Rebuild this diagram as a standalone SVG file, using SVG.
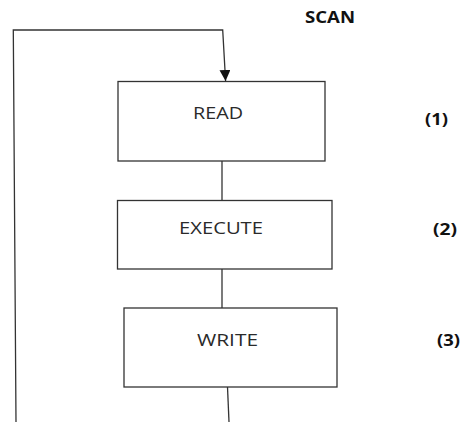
<svg xmlns="http://www.w3.org/2000/svg" width="461" height="422" viewBox="0 0 461 422">
  <style>
    .box { fill: #ffffff; stroke: #333333; stroke-width: 1.3; }
    .wire { fill: none; stroke: #333333; stroke-width: 1.3; }
    .lbl { font-family: "Open Sans", "DejaVu Sans", sans-serif; font-size: 15.5px; fill: #2a2a2a; }
    .bold { font-family: "Open Sans", "DejaVu Sans", sans-serif; font-size: 16px; font-weight: bold; fill: #111111; }
  </style>
  <defs>
    <marker id="arrow" viewBox="0 0 10 10" refX="10" refY="5" markerWidth="11" markerHeight="11" markerUnits="userSpaceOnUse" orient="auto">
      <path d="M0,0 L10,5 L0,10 Z" fill="#111111"/>
    </marker>
  </defs>
  <rect width="461" height="422" fill="#ffffff"/>

  <text class="bold" x="305" y="23" textLength="50" lengthAdjust="spacingAndGlyphs">SCAN</text>

  <g id="connectors">
    <!-- loop back from the bottom into READ -->
    <polyline class="wire" points="16,422 13.3,30 222.7,30 225.6,81" marker-end="url(#arrow)"/>
    <line class="wire" x1="222" y1="161" x2="222" y2="200.5"/>
    <line class="wire" x1="222" y1="269" x2="222" y2="308"/>
    <line class="wire" x1="227.5" y1="387" x2="229" y2="422"/>
  </g>

  <g id="read">
    <rect class="box" x="118" y="81.5" width="207" height="79.5"/>
    <text class="lbl" x="193" y="119" textLength="50" lengthAdjust="spacingAndGlyphs">READ</text>
  </g>
  <g id="execute">
    <rect class="box" x="117.5" y="200.5" width="214.5" height="68.5"/>
    <text class="lbl" x="179" y="234" textLength="84" lengthAdjust="spacingAndGlyphs">EXECUTE</text>
  </g>
  <g id="write">
    <rect class="box" x="124" y="308" width="213" height="79"/>
    <text class="lbl" x="197" y="346" textLength="61" lengthAdjust="spacingAndGlyphs">WRITE</text>
  </g>

  <text class="bold" x="425" y="125" textLength="23" lengthAdjust="spacingAndGlyphs">(1)</text>
  <text class="bold" x="433" y="235" textLength="24" lengthAdjust="spacingAndGlyphs">(2)</text>
  <text class="bold" x="437" y="346" textLength="23" lengthAdjust="spacingAndGlyphs">(3)</text>
</svg>
